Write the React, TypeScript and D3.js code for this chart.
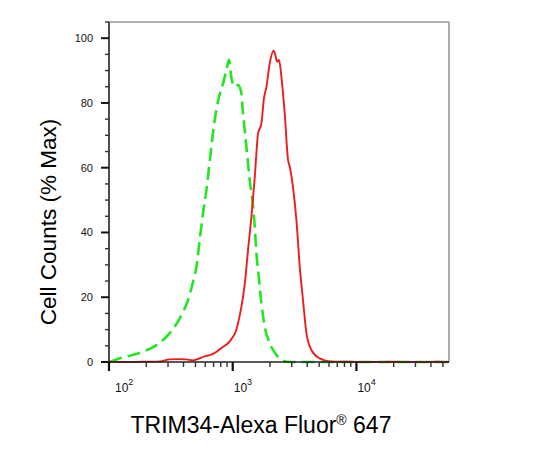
import React from "react";
import * as d3 from "d3";

const redX = [100, 150, 200, 257, 309, 360, 423, 478, 530, 575, 635, 692, 785, 860, 916, 1005, 1060, 1104, 1175, 1250, 1330, 1417, 1507, 1603, 1707, 1782, 1873, 1991, 2140, 2227, 2282, 2368, 2476, 2632, 2800, 2890, 3070, 3271, 3482, 3702, 3942, 4326, 5050, 6080, 8000, 12000, 20000, 30000, 45000, 56000];
const redY = [0, 0, 0.1, 0.2, 0.8, 0.9, 0.8, 0.5, 1.0, 1.6, 2.0, 2.5, 3.9, 5.0, 5.8, 7.8, 9.5, 12, 17, 24, 34.6, 44.9, 57, 70.6, 73.7, 81, 85, 92.2, 96.1, 94.3, 92.7, 93.3, 88, 76.8, 62.4, 60.3, 54, 43.9, 29.4, 19, 8.9, 3.7, 1.1, 0.2, 0.1, 0, 0.1, 0, 0.1, 0];

const greenX = [101, 115, 156, 188, 242, 291, 340, 385, 435, 478, 509, 541, 575, 613, 672, 715, 775, 835, 890, 933, 977, 1038, 1104, 1175, 1197, 1250, 1305, 1372, 1442, 1507, 1555, 1633, 1707, 1815, 1991, 2255, 2717, 3500, 5000, 10000, 20000, 56000];
const greenY = [0, 0.8, 2.2, 3.2, 5.2, 7.8, 10.9, 14.5, 19.1, 24.8, 29.4, 37.7, 45.9, 53.1, 66.5, 74.7, 81.9, 86, 90.2, 93.3, 87.6, 85, 85.5, 83, 78.9, 71.7, 64.5, 56.2, 50, 41.8, 33.6, 25.3, 18.1, 10.9, 5.8, 2.2, 0.1, 0, 0, 0, 0, 0];

const yMajor = [0, 20, 40, 60, 80, 100];
const yMinor = [5, 10, 15, 25, 30, 35, 45, 50, 55, 65, 70, 75, 85, 90, 95, 105];
const xMajor = [100, 1000, 10000];
const xMajorExp = ["2", "3", "4"];
const xMinor = [200, 300, 400, 500, 600, 700, 800, 900, 2000, 3000, 4000, 5000, 6000, 7000, 8000, 9000, 20000, 30000, 40000, 50000];

const font = "'Liberation Sans', Arial, sans-serif";

export default function App() {
  const left = 109, right = 449, top = 22, bottom = 362;
  const x = d3.scaleLog().domain([100, 56000]).range([left, right]);
  const y = d3.scaleLinear().domain([0, 105]).range([bottom, top]);
  const line = d3
    .line<number>()
    .x((d) => d)
    .y((d) => d)
    .curve(d3.curveMonotoneX);
  const mk = (xs: number[], ys: number[]) =>
    d3
      .line<[number, number]>()
      .x((d) => x(d[0]))
      .y((d) => y(d[1]))
      .curve(d3.curveMonotoneX)(xs.map((v, i) => [v, ys[i]] as [number, number])) || "";
  void line;

  return (
    <svg width={538} height={452} style={{ position: "absolute", left: 0, top: 0, background: "#fff" }}>
      {/* frame */}
      <line x1={left} x2={right} y1={top} y2={top} stroke="#999" strokeWidth={1.6} />
      <line x1={right} x2={right} y1={top} y2={bottom} stroke="#999" strokeWidth={1.6} />

      {/* curves */}
      <path d={mk(greenX, greenY)} fill="none" stroke="#22e622" strokeWidth={2.6} strokeDasharray="13,6" />
      <path d={mk(redX, redY)} fill="none" stroke="#ee1c1c" strokeWidth={1.9} />

      {/* y axis */}
      <line x1={left} x2={left} y1={top} y2={bottom + 1} stroke="#222" strokeWidth={1.6} />
      {yMajor.map((v) => (
        <g key={"ym" + v}>
          <line x1={left - 8} x2={left} y1={y(v)} y2={y(v)} stroke="#111" strokeWidth={2} />
          <text x={93} y={y(v)} dy="0.35em" textAnchor="end" fontFamily={font} fontSize={11} fill="#111">
            {v}
          </text>
        </g>
      ))}
      {yMinor.map((v) => (
        <line key={"yn" + v} x1={left - 4} x2={left} y1={y(v)} y2={y(v)} stroke="#333" strokeWidth={1.4} />
      ))}

      {/* x axis */}
      <line x1={left - 1} x2={right} y1={bottom} y2={bottom} stroke="#222" strokeWidth={1.6} />
      {xMajor.map((v, i) => (
        <g key={"xm" + v}>
          <line x1={x(v)} x2={x(v)} y1={bottom} y2={bottom + 9} stroke="#111" strokeWidth={2.2} />
          <text x={x(v) + (i === 0 ? 6 : 1)} y={392} fontFamily={font} fontSize={12} fill="#111">
            10
            <tspan dy={-7} fontSize={9}>
              {xMajorExp[i]}
            </tspan>
          </text>
        </g>
      ))}
      {xMinor.map((v) => (
        <line key={"xn" + v} x1={x(v)} x2={x(v)} y1={bottom} y2={bottom + 5} stroke="#333" strokeWidth={1.4} />
      ))}

      {/* axis titles */}
      <text
        transform={`translate(56,222) rotate(-90)`}
        textAnchor="middle"
        fontFamily={font}
        fontSize={22.5}
        fill="#000"
      >
        Cell Counts (% Max)
      </text>
      <text x={261} y={433} textAnchor="middle" fontFamily={font} fontSize={23} fill="#000">
        TRIM34-Alexa Fluor
        <tspan fontSize={14} dy={-8}>®</tspan>
        <tspan dy={8}> 647</tspan>
      </text>
    </svg>
  );
}
